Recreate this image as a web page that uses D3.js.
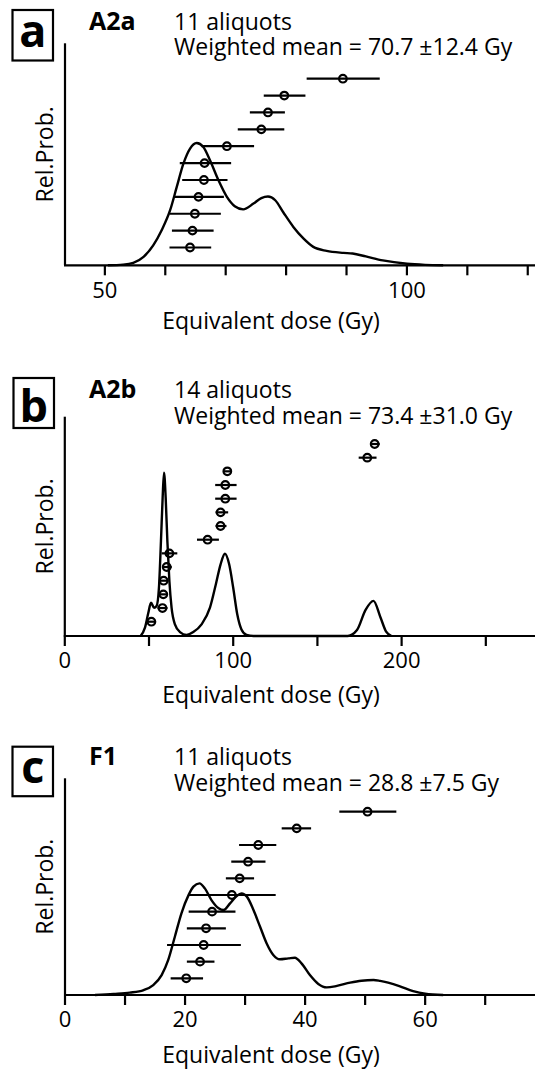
<!DOCTYPE html>
<html>
<head>
<meta charset="utf-8">
<script src="https://cdn.jsdelivr.net/npm/d3@7"></script>
<style>
  body { margin: 0; background: #fff; }
  text { font-family: "Open Sans", sans-serif; fill: #000; }
</style>
</head>
<body>
<div id="chart"></div>
<script>
// ---- A2a ----
var doseA = [64.1, 64.5, 64.9, 65.5, 66.4, 66.5, 70.2, 75.9, 77.0, 79.7, 89.4];
var lowA  = [60.7, 61.1, 60.7, 61.5, 62.8, 62.4, 66.0, 72.0, 74.0, 76.3, 83.4];
var highA = [67.6, 68.0, 69.2, 69.7, 70.3, 70.9, 74.7, 79.7, 79.8, 83.2, 95.5];
var pdfDoseA = [50.5, 53, 54.7, 56.4, 58, 59.4, 60.8, 61.9, 63, 64.1, 65.2, 66.3, 67.4, 68.8, 70.2, 71.5, 72.9, 74.6, 75.9, 77, 78.2, 79.5, 81.2, 82.9, 84.5, 86.7, 89.5, 91, 93.2, 96, 100, 103, 106];
var pdfProbA = [0, 0.003, 0.011, 0.038, 0.09, 0.158, 0.248, 0.353, 0.458, 0.526, 0.551, 0.533, 0.473, 0.383, 0.308, 0.266, 0.252, 0.278, 0.303, 0.310, 0.293, 0.24, 0.173, 0.12, 0.083, 0.065, 0.056, 0.053, 0.04, 0.022, 0.007, 0.002, 0];
var ticksA = [50, 60, 70, 80, 90, 100, 110, 120];
var tickLabelsA = [50, 100];

// ---- A2b ----
var doseB = [51.4, 58.0, 58.5, 58.7, 60.5, 62.1, 84.8, 92.5, 92.5, 95.3, 95.3, 96.5, 179.6, 184.0];
var lowB  = [49.0, 55.0, 56.0, 56.0, 58.0, 57.5, 78.5, 89.5, 89.5, 89.3, 89.3, 94.0, 174.5, 181.5];
var highB = [54.2, 61.0, 61.0, 61.5, 63.5, 66.8, 91.5, 96.0, 97.0, 102.0, 102.0, 99.0, 185.1, 187.0];
var pdfDoseB = [45, 47.6, 49.6, 51.2, 53, 54.5, 55.9, 57.1, 58.1, 58.9, 59.9, 60.9, 62.1, 63.4, 65.4, 68.4, 72.3, 76.3, 81.2, 86.2, 89.7, 92.5, 95.1, 97.6, 100, 102.4, 104.9, 107.9, 112, 168, 173.5, 178.6, 183.3, 187.3, 190.8, 194];
var pdfProbB = [0, 0.038, 0.106, 0.152, 0.129, 0.137, 0.22, 0.433, 0.631, 0.745, 0.631, 0.433, 0.251, 0.129, 0.053, 0.018, 0.005, 0.018, 0.053, 0.129, 0.236, 0.327, 0.375, 0.327, 0.22, 0.099, 0.03, 0.005, 0, 0, 0.027, 0.119, 0.16, 0.088, 0.02, 0];
var ticksB = [0, 50, 100, 150, 200, 250];
var tickLabelsB = [0, 100, 200];

// ---- F1 ----
var doseC = [20.2, 22.5, 23.1, 23.5, 24.5, 27.8, 29.1, 30.5, 32.2, 38.6, 50.4];
var lowC  = [17.6, 20.3, 17.0, 20.3, 20.6, 20.6, 26.8, 27.7, 29.0, 36.1, 45.7];
var highC = [23.0, 24.9, 29.3, 26.8, 28.4, 35.1, 31.5, 33.4, 35.2, 41.0, 55.2];
var pdfDoseC = [5, 8.1, 10.8, 13.1, 14.7, 16.1, 17.2, 18.3, 19.4, 20.6, 21.4, 22.4, 23.3, 24.4, 25.6, 26.4, 27.5, 28.6, 29.4, 30.3, 31.4, 32.5, 33.6, 34.7, 35.8, 37.2, 38.3, 39.4, 40.8, 42.2, 43.6, 45.3, 47.5, 49.4, 51.4, 52.5, 55.7, 58, 60, 63];
var pdfProbC = [0, 0.005, 0.011, 0.023, 0.046, 0.092, 0.162, 0.269, 0.377, 0.462, 0.5, 0.515, 0.492, 0.438, 0.4, 0.392, 0.423, 0.457, 0.469, 0.454, 0.392, 0.315, 0.238, 0.185, 0.165, 0.169, 0.172, 0.146, 0.092, 0.051, 0.035, 0.042, 0.057, 0.066, 0.069, 0.065, 0.041, 0.018, 0.006, 0];
var ticksC = [0, 10, 20, 30, 40, 50, 60, 70];
var tickLabelsC = [0, 20, 40, 60];

var panels = [
  { letter: "a", name: "A2a", count: "11 aliquots", mean: "Weighted mean = 70.7 \u00b112.4 Gy",
    dose: doseA, low: lowA, high: highA, pdfDose: pdfDoseA, pdfProb: pdfProbA, ticks: ticksA, labels: tickLabelsA,
    xDomain: [43.4, 121.2], x0: 65, top: 43.3, base: 265.3, rowLo: 247.5, rowHi: 78.7,
    box: [12.5, 10, 40.5, 50.5], letterY: 47, headY: 29.5, tickY: 298.3, titleY: 329 },
  { letter: "b", name: "A2b", count: "14 aliquots", mean: "Weighted mean = 73.4 \u00b131.0 Gy",
    dose: doseB, low: lowB, high: highB, pdfDose: pdfDoseB, pdfProb: pdfProbB, ticks: ticksB, labels: tickLabelsB,
    xDomain: [0, 279.2], x0: 64.8, top: 416.7, base: 636, rowLo: 621.7, rowHi: 444,
    box: [13.5, 378, 40.5, 50], letterY: 421.7, headY: 398, tickY: 668.3, titleY: 703 },
  { letter: "c", name: "F1", count: "11 aliquots", mean: "Weighted mean = 28.8 \u00b17.5 Gy",
    dose: doseC, low: lowC, high: highC, pdfDose: pdfDoseC, pdfProb: pdfProbC, ticks: ticksC, labels: tickLabelsC,
    xDomain: [0, 78.3], x0: 65, top: 778.3, base: 995, rowLo: 978.3, rowHi: 811.7,
    box: [12.5, 746.7, 40.5, 49.5], letterY: 783, headY: 765, tickY: 1026.7, titleY: 1063 }
];

var svg = d3.select("#chart").append("svg")
    .attr("width", 535)
    .attr("height", 1070);

panels.forEach(function(p){
    var g = svg.append("g");

    var x = d3.scaleLinear().domain(p.xDomain).range([p.x0, 535]);
    var y = d3.scaleLinear().domain([0, 1]).range([p.base, p.top]);
    var row = d3.scalePoint().domain(d3.range(p.dose.length)).range([p.rowLo, p.rowHi]);

    // letter box
    g.append("rect")
        .attr("x", p.box[0]).attr("y", p.box[1])
        .attr("width", p.box[2]).attr("height", p.box[3])
        .attr("fill", "none").attr("stroke", "#000").attr("stroke-width", 2.2);
    g.append("text")
        .attr("x", p.box[0] + p.box[2] / 2).attr("y", p.letterY)
        .attr("text-anchor", "middle")
        .style("font-size", "45px").style("font-weight", "bold")
        .text(p.letter);

    // headings
    g.append("text")
        .attr("x", 89).attr("y", p.headY)
        .style("font-size", "25px").style("font-weight", "bold")
        .text(p.name);
    g.append("text")
        .attr("x", 174).attr("y", p.headY)
        .style("font-size", "23px")
        .text(p.count);
    g.append("text")
        .attr("x", 174).attr("y", p.headY + 25.5)
        .style("font-size", "23px")
        .text(p.mean);

    // axes
    g.append("line")
        .attr("x1", x.range()[0]).attr("x2", x.range()[0])
        .attr("y1", p.top).attr("y2", p.base)
        .attr("stroke", "#000").attr("stroke-width", 2.2);
    g.append("line")
        .attr("x1", x.range()[0] - 1).attr("x2", 535)
        .attr("y1", p.base).attr("y2", p.base)
        .attr("stroke", "#000").attr("stroke-width", 2.2);
    g.selectAll(".tick").data(p.ticks).enter().append("line")
        .attr("x1", function(d){ return x(d); }).attr("x2", function(d){ return x(d); })
        .attr("y1", p.base).attr("y2", p.base + 10)
        .attr("stroke", "#000").attr("stroke-width", 2.2);
    g.selectAll(".ticklabel").data(p.labels).enter().append("text")
        .attr("x", function(d){ return x(d); }).attr("y", p.tickY)
        .attr("text-anchor", "middle")
        .style("font-size", "22px")
        .text(function(d){ return d; });

    g.append("text")
        .attr("x", 271).attr("y", p.titleY)
        .attr("text-anchor", "middle")
        .style("font-size", "23px")
        .text("Equivalent dose (Gy)");
    g.append("text")
        .attr("transform", "translate(53," + ((p.top + p.base) / 2) + ") rotate(-90)")
        .attr("text-anchor", "middle")
        .style("font-size", "23px")
        .text("Rel.Prob.");

    // probability density curve
    var line = d3.line()
        .x(function(d){ return x(d[0]); })
        .y(function(d){ return y(d[1]); })
        .curve(d3.curveMonotoneX);
    g.append("path")
        .datum(d3.zip(p.pdfDose, p.pdfProb))
        .attr("d", line)
        .attr("fill", "none").attr("stroke", "#000").attr("stroke-width", 2.4);

    // individual aliquots
    var pts = g.selectAll(".aliquot").data(p.dose).enter().append("g");
    pts.append("line")
        .attr("x1", function(d, i){ return x(p.low[i]); })
        .attr("x2", function(d, i){ return x(p.high[i]); })
        .attr("y1", function(d, i){ return row(i); })
        .attr("y2", function(d, i){ return row(i); })
        .attr("stroke", "#000").attr("stroke-width", 2.2);
    pts.append("circle")
        .attr("cx", function(d){ return x(d); })
        .attr("cy", function(d, i){ return row(i); })
        .attr("r", 3.8)
        .attr("fill", "none").attr("stroke", "#000").attr("stroke-width", 2.2);
});
</script>
</body>
</html>
